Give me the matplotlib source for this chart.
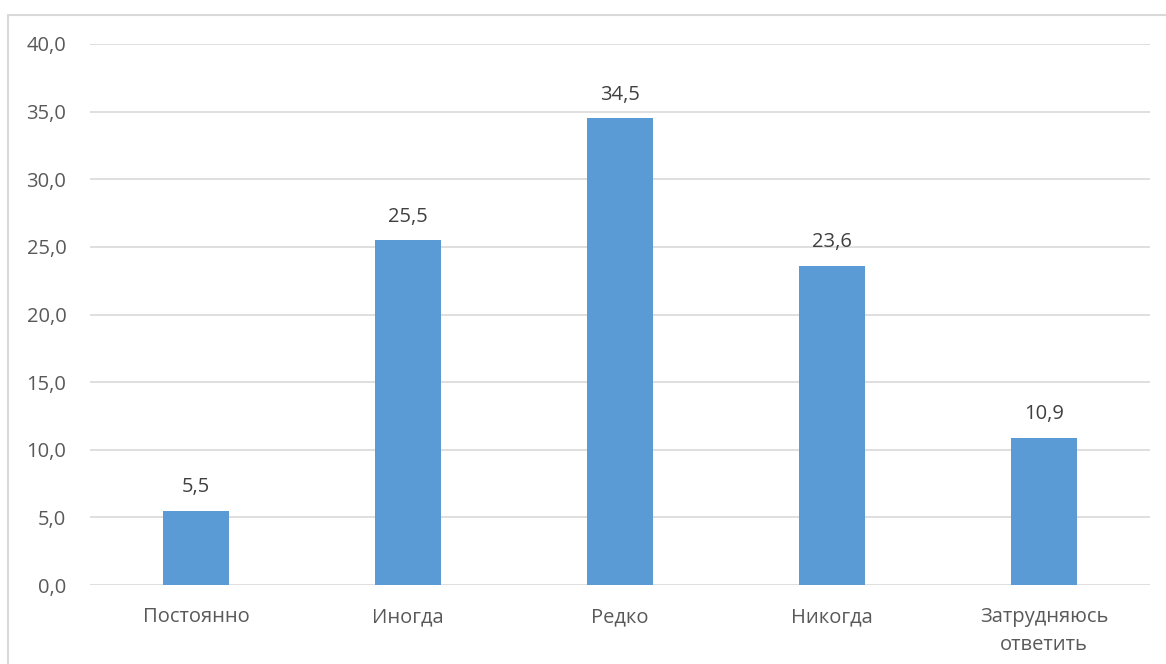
import matplotlib
matplotlib.use("Agg")
import matplotlib.pyplot as plt
from matplotlib.patches import Rectangle

categories = ["Постоянно", "Иногда", "Редко", "Никогда", "Затрудняюсь\nответить"]
values = [5.5, 25.5, 34.5, 23.6, 10.9]
yticks = [0, 5, 10, 15, 20, 25, 30, 35, 40]

plt.rcParams['font.family'] = ['Open Sans', 'DejaVu Sans']
text_color = "#595959"

fig = plt.figure(figsize=(11.66, 6.64), dpi=100)
ax = fig.add_axes([90/1166, 1 - 585/664, (1150-90)/1166, (585-44)/664])

x = list(range(len(categories)))
ax.bar(x, values, width=0.31, color="#5B9BD5", zorder=3)
for xi, v in zip(x, values):
    ax.text(xi, v + 1.0, f"{v:.1f}".replace(".", ","), ha="center", va="bottom",
            fontsize=14.5, color="#404040")

ax.set_xlim(-0.5, len(categories) - 0.5)
ax.set_ylim(0, 40)
ax.set_yticks(yticks)
ax.set_yticklabels([f"{t:.1f}".replace(".", ",") for t in yticks], fontsize=14.5, color=text_color)
ax.set_xticks(x)
ax.set_xticklabels(categories, fontsize=14.5, color=text_color, linespacing=1.55)
ax.tick_params(axis="both", length=0)
ax.tick_params(axis="y", pad=17)
ax.tick_params(axis="x", pad=16)
ax.grid(axis="y", color="#D9D9D9", linewidth=1.2, zorder=0)
for s in ax.spines.values():
    s.set_visible(False)

fig.patches.append(Rectangle((7.5/1166, -0.05), 1.1, 1 - 15/664 + 0.05,
                             transform=fig.transFigure, fill=False,
                             edgecolor="#D9D9D9", linewidth=1.5))

fig.savefig("out.png", dpi=100)
